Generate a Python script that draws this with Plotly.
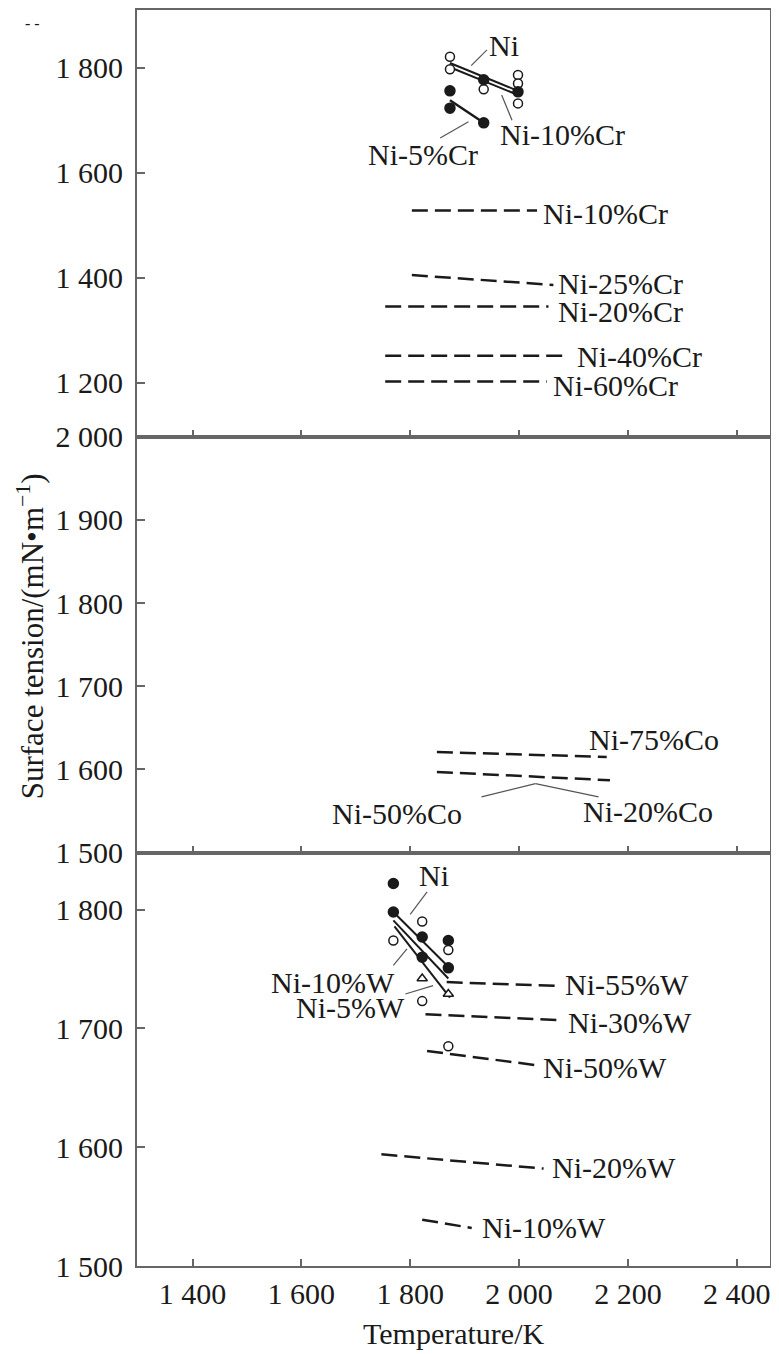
import plotly.graph_objects as go

# ---------------- data ----------------
# x axis
x_tickvals = [1400, 1600, 1800, 2000, 2200, 2400]
x_ticktext = ["1 400", "1 600", "1 800", "2 000", "2 200", "2 400"]

# Top panel: Ni-Cr
cr_y_tickvals = [1200, 1400, 1600, 1800]
cr_y_ticktext = ["1 200", "1 400", "1 600", "1 800"]
cr_ni_T = [1873, 1998]
cr_ni_v = [1809, 1756]
cr_10_T = [1873, 1998]
cr_10_v = [1801, 1748]
cr_5_T = [1873, 1935]
cr_5_v = [1738, 1695]
cr_open_T = [1873, 1873, 1935, 1998, 1998, 1998]
cr_open_v = [1821, 1797, 1759, 1786, 1770, 1732]
cr_fill_T = [1873, 1873, 1935, 1935, 1998]
cr_fill_v = [1756, 1723, 1695, 1777, 1754]
cr_dash_names = ["Ni-10%Cr", "Ni-25%Cr", "Ni-20%Cr", "Ni-40%Cr", "Ni-60%Cr"]
cr_dash_T = [[1803, 2033], [1803, 2063], [1754, 2054], [1754, 2091], [1754, 2051]]
cr_dash_v = [[1528, 1528], [1405, 1386], [1345, 1345], [1251, 1251], [1202, 1202]]

# Middle panel: Ni-Co
co_y_tickvals = [1500, 1600, 1700, 1800, 1900, 2000]
co_y_ticktext = ["1 500", "1 600", "1 700", "1 800", "1 900", "2 000"]
co_names = ["Ni-75%Co", "Ni-50%Co / Ni-20%Co"]
co_T = [[1849, 2161], [1849, 2167]]
co_v = [[1621, 1615], [1597, 1587]]

# Bottom panel: Ni-W
w_y_tickvals = [1500, 1600, 1700, 1800]
w_y_ticktext = ["1 500", "1 600", "1 700", "1 800"]
w_solid_names = ["Ni", "Ni-10%W", "Ni-5%W"]
w_solid_T = [[1769, 1870], [1769, 1870], [1771, 1873]]
w_solid_v = [[1798, 1752], [1791, 1742], [1786, 1726]]
w_fill_T = [1769, 1769, 1822, 1822, 1870, 1870]
w_fill_v = [1822, 1798, 1777, 1760, 1774, 1751]
w_open_T = [1769, 1822, 1822, 1870, 1870]
w_open_v = [1774, 1790, 1723, 1766, 1685]
w_tri_T = [1822, 1870]
w_tri_v = [1742, 1729]
w_dash_names = ["Ni-55%W", "Ni-30%W", "Ni-50%W", "Ni-20%W", "Ni-10%W"]
w_dash_T = [[1867, 2066], [1828, 2075], [1831, 2033], [1747, 2045], [1822, 1913]]
w_dash_v = [[1739, 1736], [1712, 1707], [1681, 1669], [1594, 1582], [1539, 1532]]

# ---------------- style ----------------
FONT = "Liberation Serif"
INK = "#1a1a1a"
FRAME = "#666666"
DASH = "16px,7px"
FS = 30

fig = go.Figure()


def line(xs, ys, ax, dash=None, width=2.5):
    fig.add_trace(go.Scatter(x=xs, y=ys, mode="lines", xaxis=ax[0], yaxis=ax[1],
                             line=dict(color=INK, width=width, dash=dash),
                             showlegend=False, hoverinfo="skip"))


def markers(xs, ys, ax, symbol, size, filled):
    fig.add_trace(go.Scatter(x=xs, y=ys, mode="markers", xaxis=ax[0], yaxis=ax[1],
                             marker=dict(symbol=symbol, size=size,
                                         color=INK if filled else "white",
                                         line=dict(color=INK, width=1.5)),
                             showlegend=False, hoverinfo="skip"))


TOP = ("x", "y")
MID = ("x2", "y2")
BOT = ("x3", "y3")

# top panel
line(cr_ni_T, cr_ni_v, TOP, width=2)
line(cr_10_T, cr_10_v, TOP, width=2)
line(cr_5_T, cr_5_v, TOP, width=2.5)
markers(cr_open_T, cr_open_v, TOP, "circle", 9, False)
markers(cr_fill_T, cr_fill_v, TOP, "circle", 10, True)
for T, v in zip(cr_dash_T, cr_dash_v):
    line(T, v, TOP, dash=DASH)

# middle panel
for T, v in zip(co_T, co_v):
    line(T, v, MID, dash=DASH)

# bottom panel
for T, v in zip(w_solid_T, w_solid_v):
    line(T, v, BOT, width=2)
markers(w_fill_T, w_fill_v, BOT, "circle", 10, True)
markers(w_open_T, w_open_v, BOT, "circle", 9, False)
markers(w_tri_T, w_tri_v, BOT, "triangle-up", 9, False)
for T, v in zip(w_dash_T, w_dash_v):
    line(T, v, BOT, dash=DASH)

# ---------------- labels ----------------
annotations = []


def label(text, x, y, ax, xanchor="left"):
    annotations.append(dict(text=text, x=x, y=y, xref=ax[0], yref=ax[1],
                            xanchor=xanchor, yanchor="middle", showarrow=False,
                            font=dict(family=FONT, size=FS, color=INK)))


label("Ni", 1941, 1843, TOP)
label("Ni-10%Cr", 1962, 1672, TOP)
label("Ni-5%Cr", 1718, 1634, TOP)
label("Ni-10%Cr", 2040, 1523, TOP)
label("Ni-25%Cr", 2068, 1388, TOP)
label("Ni-20%Cr", 2068, 1336, TOP)
label("Ni-40%Cr", 2103, 1249, TOP)
label("Ni-60%Cr", 2059, 1194, TOP)

label("Ni-75%Co", 2124, 1636, MID)
label("Ni-50%Co", 1652, 1547, MID)
label("Ni-20%Co", 2114, 1549, MID)

label("Ni", 1812, 1829, BOT)
label("Ni-10%W", 1540, 1739, BOT)
label("Ni-5%W", 1586, 1718, BOT)
label("Ni-55%W", 2081, 1737, BOT)
label("Ni-30%W", 2086, 1705, BOT)
label("Ni-50%W", 2040, 1667, BOT)
label("Ni-20%W", 2057, 1583, BOT)
label("Ni-10%W", 1928, 1532, BOT)

# axis titles
annotations.append(dict(text="Surface tension/(mN\u2022m<sup>\u22121</sup>)", x=-0.167, y=0.5016,
                        xref="paper", yref="paper", textangle=-90, showarrow=False,
                        xanchor="center", yanchor="middle",
                        font=dict(family=FONT, size=31, color=INK)))
annotations.append(dict(text="Temperature/K", x=0.5, y=-0.054, xref="paper", yref="paper",
                        showarrow=False, xanchor="center", yanchor="middle",
                        font=dict(family=FONT, size=30, color=INK)))
annotations.append(dict(text="- -", x=-0.165, y=0.989, xref="paper", yref="paper",
                        showarrow=False, xanchor="center", yanchor="middle",
                        font=dict(family=FONT, size=16, color=INK)))

# leader lines
shapes = []


def leader(x0, y0, x1, y1, ax):
    shapes.append(dict(type="line", x0=x0, y0=y0, x1=x1, y1=y1, xref=ax[0], yref=ax[1],
                       line=dict(color="#555555", width=1.2)))


leader(1941, 1834, 1912, 1804, TOP)
leader(1968, 1748, 1987, 1700, TOP)
leader(1855, 1666, 1907, 1697, TOP)
leader(1931, 1567, 2030, 1583, MID)
leader(2030, 1583, 2146, 1567, MID)
leader(1831, 1815, 1800, 1796, BOT)
leader(1769, 1753, 1794, 1767, BOT)
leader(1791, 1729, 1842, 1736, BOT)

# ---------------- axes ----------------
tickfont = dict(family=FONT, size=FS, color=INK)
xcommon = dict(range=[1298, 2461], tickvals=x_tickvals, ticktext=x_ticktext, ticks="inside",
               ticklen=7, tickwidth=1.5, tickcolor=FRAME, showline=True, mirror=True,
               linecolor=FRAME, linewidth=2, showgrid=False, zeroline=False, tickfont=tickfont)
ycommon = dict(ticks="inside", ticklen=8, tickwidth=1.5, tickcolor=FRAME, showline=True,
               mirror=True, linecolor=FRAME, linewidth=2, showgrid=False, zeroline=False,
               tickfont=tickfont, ticklabelstandoff=6)

# page body has an 8px default margin: size the figure so that it fills the window exactly
fig.update_layout(
    width=771, height=1346,
    margin=dict(l=129, r=9, t=2, b=88, autoexpand=False),
    paper_bgcolor="white", plot_bgcolor="white",
    showlegend=False,
    xaxis=dict(xcommon, anchor="y", showticklabels=False),
    xaxis2=dict(xcommon, anchor="y2", showticklabels=False, matches="x"),
    xaxis3=dict(xcommon, anchor="y3", showticklabels=True, matches="x", ticklabelstandoff=0),
    yaxis=dict(ycommon, anchor="x", domain=[0.6603, 1.0], range=[1097, 1910],
               tickvals=cr_y_tickvals, ticktext=cr_y_ticktext),
    yaxis2=dict(ycommon, anchor="x2", domain=[0.3291, 0.6603], range=[1500, 2000],
                tickvals=co_y_tickvals, ticktext=co_y_ticktext),
    yaxis3=dict(ycommon, anchor="x3", domain=[0.0, 0.3291], range=[1500, 1848],
                tickvals=w_y_tickvals, ticktext=w_y_ticktext),
    annotations=annotations,
    shapes=shapes,
)

fig.write_html("out.html")
